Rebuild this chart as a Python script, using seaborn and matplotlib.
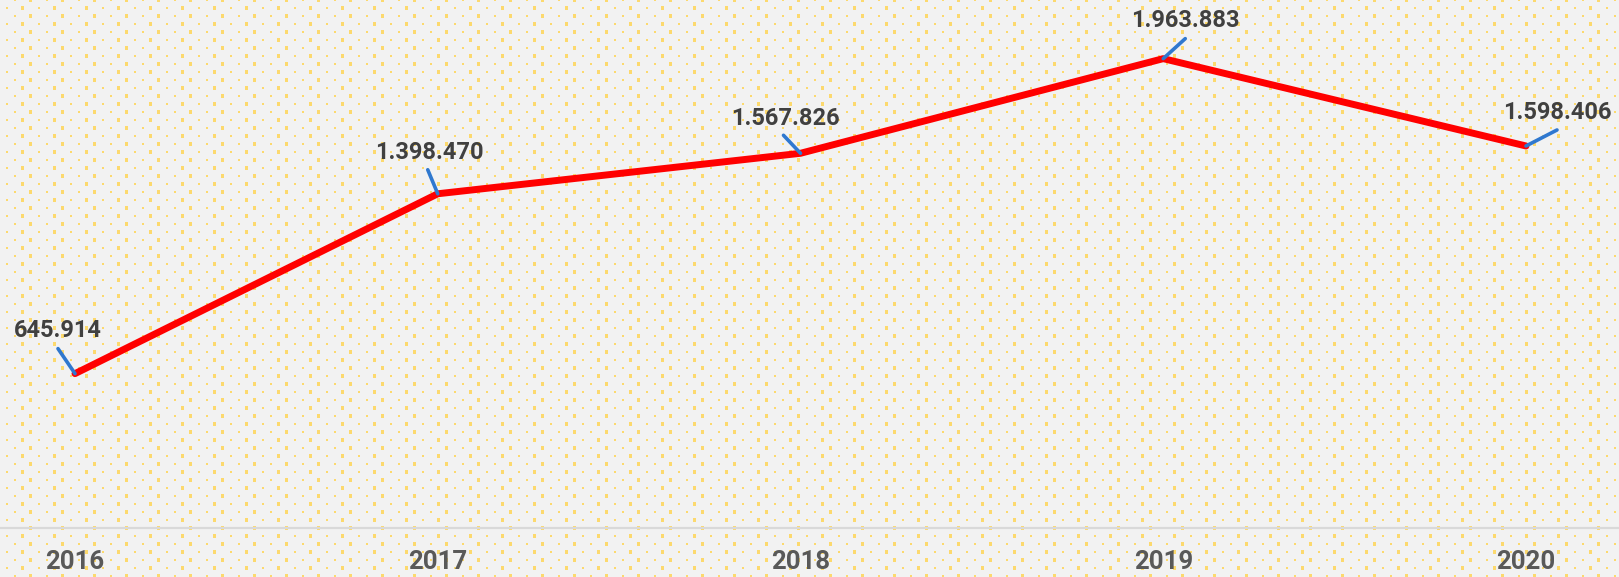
import numpy as np
import pandas as pd
import seaborn as sns
import matplotlib.pyplot as plt

# Data
years = ["2016", "2017", "2018", "2019", "2020"]
values = [645914, 1398470, 1567826, 1963883, 1598406]
labels = ["645.914", "1.398.470", "1.567.826", "1.963.883", "1.598.406"]

# label / leader offsets in pixels (style only)
label_offsets = [(-17, 43), (-8, 41), (-15, 35), (22, 38), (31, 33)]
leader_offsets = [(-17, 25), (-10, 24), (-17, 18), (22, 20), (31, 16)]

df = pd.DataFrame({"pos": range(len(years)), "value": values})

sns.set_style("white")
plt.rcParams["font.family"] = ["Roboto", "DejaVu Sans"]

W, H = 1619, 577
fig = plt.figure(figsize=(W / 100, H / 100), dpi=100, facecolor="#F2F2F2")

# dotted background pattern
bg = fig.add_axes([0, 0, 1, 1], zorder=0)
bg.set_xlim(0, W)
bg.set_ylim(H, 0)
bg.axis("off")
xs, ys, ss = [], [], []
for y in np.arange(0, H + 8, 8):
    start = 6.7 if (y % 16) == 8 else 14.7
    row = np.arange(start, W + 16, 16)
    xs.extend(row)
    ys.extend([y] * len(row))
    ss.extend([5.0 if k % 2 else 2.5 for k in range(len(row))])
bg.scatter(xs, ys, s=ss, marker="s", color="#FFD34D", alpha=0.8, linewidths=0)

axis_y = 528
ax = fig.add_axes([0, 1 - axis_y / H, 1, axis_y / H], zorder=1)
ax.set_facecolor("none")

sns.lineplot(data=df, x="pos", y="value", color="#FF0000", linewidth=5, ax=ax)

ax.set_xlim(-75 / 362.75, 4 + 93 / 362.75)
ax.set_ylim(0, axis_y / 0.000239)

for i, (v, lab) in enumerate(zip(values, labels)):
    ax.annotate("", xy=(i, v), xytext=leader_offsets[i], textcoords="offset pixels",
                arrowprops=dict(arrowstyle="-", color="#2F78CF", lw=2.6,
                                shrinkA=0, shrinkB=0))
    ax.annotate(lab, xy=(i, v), xytext=label_offsets[i], textcoords="offset pixels",
                ha="center", va="center", fontsize=17, fontweight="bold",
                color="#404040")

ax.set_xticks(range(len(years)))
ax.set_xticklabels(years, fontsize=18.5, fontweight="bold", color="#595959")
ax.set_yticks([])
ax.tick_params(axis="x", length=0, pad=16)
ax.set_xlabel("")
ax.set_ylabel("")
for s in ["top", "left", "right"]:
    ax.spines[s].set_visible(False)
ax.spines["bottom"].set_color("#D9D9D9")
ax.spines["bottom"].set_linewidth(1.6)

plt.savefig("out.png", dpi=100, facecolor=fig.get_facecolor())
